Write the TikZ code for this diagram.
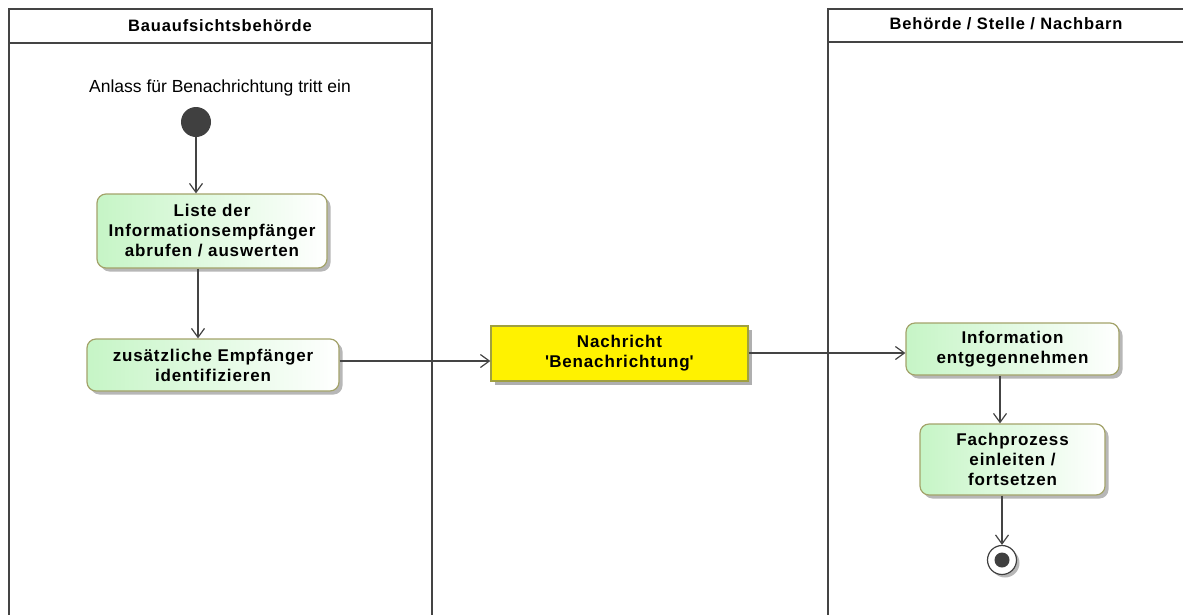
\documentclass[tikz,border=0pt]{standalone}
\usepackage{fontspec}
\setmainfont{Liberation Sans}
\newfontfamily\boldsp[LetterSpace=5]{Liberation Sans Bold}
\usetikzlibrary{arrows.meta,shadows}
\definecolor{lane}{HTML}{444444}
\definecolor{actborder}{HTML}{A3A36A}
\definecolor{actgreen}{HTML}{C6F5C6}
\definecolor{msgborder}{HTML}{A0A040}
\definecolor{line}{HTML}{444444}
\tikzset{
  act/.style={draw=actborder, line width=1.2pt, rounded corners=9pt, left color=actgreen, right color=white,
    align=center, font=\boldsp\fontsize{17}{20}\selectfont, inner sep=0pt,
    drop shadow={shadow xshift=3.5pt, shadow yshift=-3.5pt, fill=black!40, opacity=0.7}},
  msg/.style={draw=msgborder, line width=1.2pt, fill=yellow, align=center, inner sep=0pt,
    font=\boldsp\fontsize{17}{20}\selectfont,
    drop shadow={shadow xshift=4pt, shadow yshift=-4pt, fill=black!35, opacity=0.9}},
  conn/.style={draw=line, line width=1.2pt, -{Straight Barb[length=9pt,width=13pt,line width=1.2pt]}},
  lanebox/.style={draw=lane, line width=2.5pt},
  hdr/.style={font=\boldsp\fontsize{16.5}{18}\selectfont}
}
\begin{document}
\begin{tikzpicture}[x=1pt,y=-1pt]
\useasboundingbox (0,0) rectangle (1183,614);
% lanes
\draw[lanebox] (9,616) -- (9,9) -- (432,9) -- (432,616);
\draw[lanebox] (9,43) -- (432,43);
\draw[lanebox] (828,616) -- (828,9) -- (1186,9);
\draw[lanebox] (828,42) -- (1186,42);
\node[hdr] (h1) at (220,26) {Bauaufsichtsbehörde};
\node[hdr] (h2) at (1006,24) {Behörde / Stelle / Nachbarn};
% start
\node[font=\fontsize{17.5}{20}\selectfont] (lbl) at (220,88) {Anlass für Benachrichtung tritt ein};
\node[circle, fill=black!75, minimum size=30pt, inner sep=0pt] (start) at (196,122) {};
% activities
\node[act, minimum width=230pt, minimum height=74pt] (a1) at (212,231) {Liste der\\Informationsempfänger\\abrufen / auswerten};
\node[act, minimum width=252pt, minimum height=52pt] (a2) at (213,365) {zusätzliche Empfänger\\identifizieren};
\node[msg, minimum width=257pt, minimum height=55pt] (m) at (619.5,353.5) {Nachricht\\\textquotesingle Benachrichtung\textquotesingle};
\node[act, minimum width=213pt, minimum height=52pt] (a3) at (1012.5,349) {Information\\entgegennehmen};
\node[act, minimum width=185pt, minimum height=71pt] (a4) at (1012.5,459.5) {Fachprozess\\einleiten /\\fortsetzen};
% end
\node[circle, draw=black!75, line width=1.2pt, fill=white, minimum size=29pt, inner sep=0pt,
  drop shadow={shadow xshift=3pt, shadow yshift=-3pt, fill=black!40, opacity=0.7}] (end) at (1002,560) {};
\node[circle, fill=black!75, minimum size=15pt, inner sep=0pt] (endin) at (end.center) {};
% connectors
\draw[conn] (start.south) -- (a1.north -| start.south);
\draw[conn] (a1.south -| 198,0) -- (a2.north -| 198,0);
\draw[conn] (a2.east |- 0,361) -- (m.west |- 0,361);
\draw[conn] (m.east |- 0,353) -- (a3.west |- 0,353);
\draw[conn] (a3.south -| 1000,0) -- (a4.north -| 1000,0);
\draw[conn] (a4.south -| 1002,0) -- (end.north);
\end{tikzpicture}
\end{document}
